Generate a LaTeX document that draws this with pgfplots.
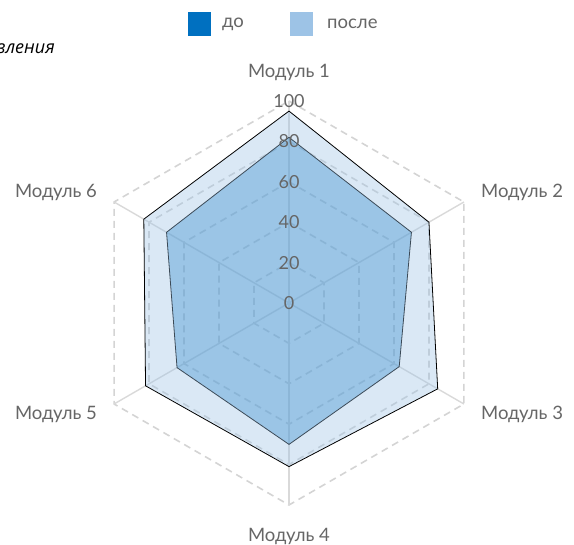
\documentclass[border=0pt]{standalone}
\usepackage{pgfplots}
\pgfplotsset{compat=1.18}
\usepackage{fontspec}
\setmainfont{Lato}
\newfontfamily\titlefont{Open Sans}
\definecolor{cDo}{HTML}{0070C0}
\definecolor{cPosle}{HTML}{9DC3E6}
\definecolor{gridc}{HTML}{D4D4D4}
\definecolor{spokec}{HTML}{D9D9D9}
\definecolor{txt}{HTML}{666666}
\begin{document}
\begin{tikzpicture}[x=1pt,y=1pt]
\clip (0,0) rectangle (574,545);
% title (cut off at left, as in the reference)
\node[anchor=base east, inner sep=0pt, font=\titlefont\itshape\fontsize{18}{20}\selectfont, text=black] at (55,491) {Результаты до и после представления};
% legend
\fill[cDo] (188,509) rectangle (211,533);
\node[anchor=west, inner sep=0pt, text=txt, font=\fontsize{18.5}{20}\selectfont] at (222,521) {до};
\fill[cPosle] (290,509) rectangle (313,533);
\node[anchor=west, inner sep=0pt, text=txt, font=\fontsize{18.5}{20}\selectfont] at (327,521) {после};
\begin{axis}[at={(289pt,242pt)}, anchor=origin, x=2.02pt, y=2.02pt,
  hide axis, xmin=-100, xmax=100, ymin=-100, ymax=100, clip=false,
  every axis plot/.append style={data cs=polar}]
% grid hexagons
\addplot[gridc, line width=1.6pt, dash pattern=on 7pt off 5pt, mark=none] coordinates {(90,20)(30,20)(-30,20)(-90,20)(-150,20)(150,20)(90,20)};
\addplot[gridc, line width=1.6pt, dash pattern=on 7pt off 5pt, mark=none] coordinates {(90,40)(30,40)(-30,40)(-90,40)(-150,40)(150,40)(90,40)};
\addplot[gridc, line width=1.6pt, dash pattern=on 7pt off 5pt, mark=none] coordinates {(90,60)(30,60)(-30,60)(-90,60)(-150,60)(150,60)(90,60)};
\addplot[gridc, line width=1.6pt, dash pattern=on 7pt off 5pt, mark=none] coordinates {(90,80)(30,80)(-30,80)(-90,80)(-150,80)(150,80)(90,80)};
\addplot[gridc, line width=1.6pt, dash pattern=on 7pt off 5pt, mark=none] coordinates {(90,100)(30,100)(-30,100)(-90,100)(-150,100)(150,100)(90,100)};
% spokes
\addplot[spokec, line width=1.4pt, mark=none] coordinates {(90,0)(90,100)};
\addplot[spokec, line width=1.4pt, mark=none] coordinates {(30,0)(30,100)};
\addplot[spokec, line width=1.4pt, mark=none] coordinates {(-30,0)(-30,100)};
\addplot[spokec, line width=1.4pt, mark=none] coordinates {(-90,0)(-90,100)};
\addplot[spokec, line width=1.4pt, mark=none] coordinates {(-150,0)(-150,100)};
\addplot[spokec, line width=1.4pt, mark=none] coordinates {(150,0)(150,100)};
% до
\addplot[draw=black, line width=0.8pt, fill=cDo, fill opacity=0.4, mark=none] coordinates {(90,82)(30,70)(-30,63)(-90,70)(-150,64)(150,70)} -- cycle;
% после
\addplot[draw=black, line width=0.8pt, fill=cPosle, fill opacity=0.38, mark=none] coordinates {(90,95)(30,80)(-30,85)(-90,81)(-150,82)(150,83)} -- cycle;
% radial tick labels
\foreach \r in {0,20,40,60,80,100}{
  \edef\tmp{\noexpand\node[text=txt, font=\noexpand\fontsize{18}{20}\noexpand\selectfont, inner sep=0pt] at (axis cs:0,\r) {\r};}
  \tmp
}
% category labels
\node[text=txt, font=\fontsize{18.5}{20}\selectfont, inner sep=0pt] at (axis cs:0,114) {Модуль 1};
\node[text=txt, font=\fontsize{18.5}{20}\selectfont, inner sep=0pt, anchor=west] at (axis cs:95,54.6) {Модуль 2};
\node[text=txt, font=\fontsize{18.5}{20}\selectfont, inner sep=0pt, anchor=west] at (axis cs:95,-55.3) {Модуль 3};
\node[text=txt, font=\fontsize{18.5}{20}\selectfont, inner sep=0pt] at (axis cs:0,-115.8) {Модуль 4};
\node[text=txt, font=\fontsize{18.5}{20}\selectfont, inner sep=0pt, anchor=east] at (axis cs:-95,-55.3) {Модуль 5};
\node[text=txt, font=\fontsize{18.5}{20}\selectfont, inner sep=0pt, anchor=east] at (axis cs:-95,54.6) {Модуль 6};
\end{axis}
\end{tikzpicture}
\end{document}
